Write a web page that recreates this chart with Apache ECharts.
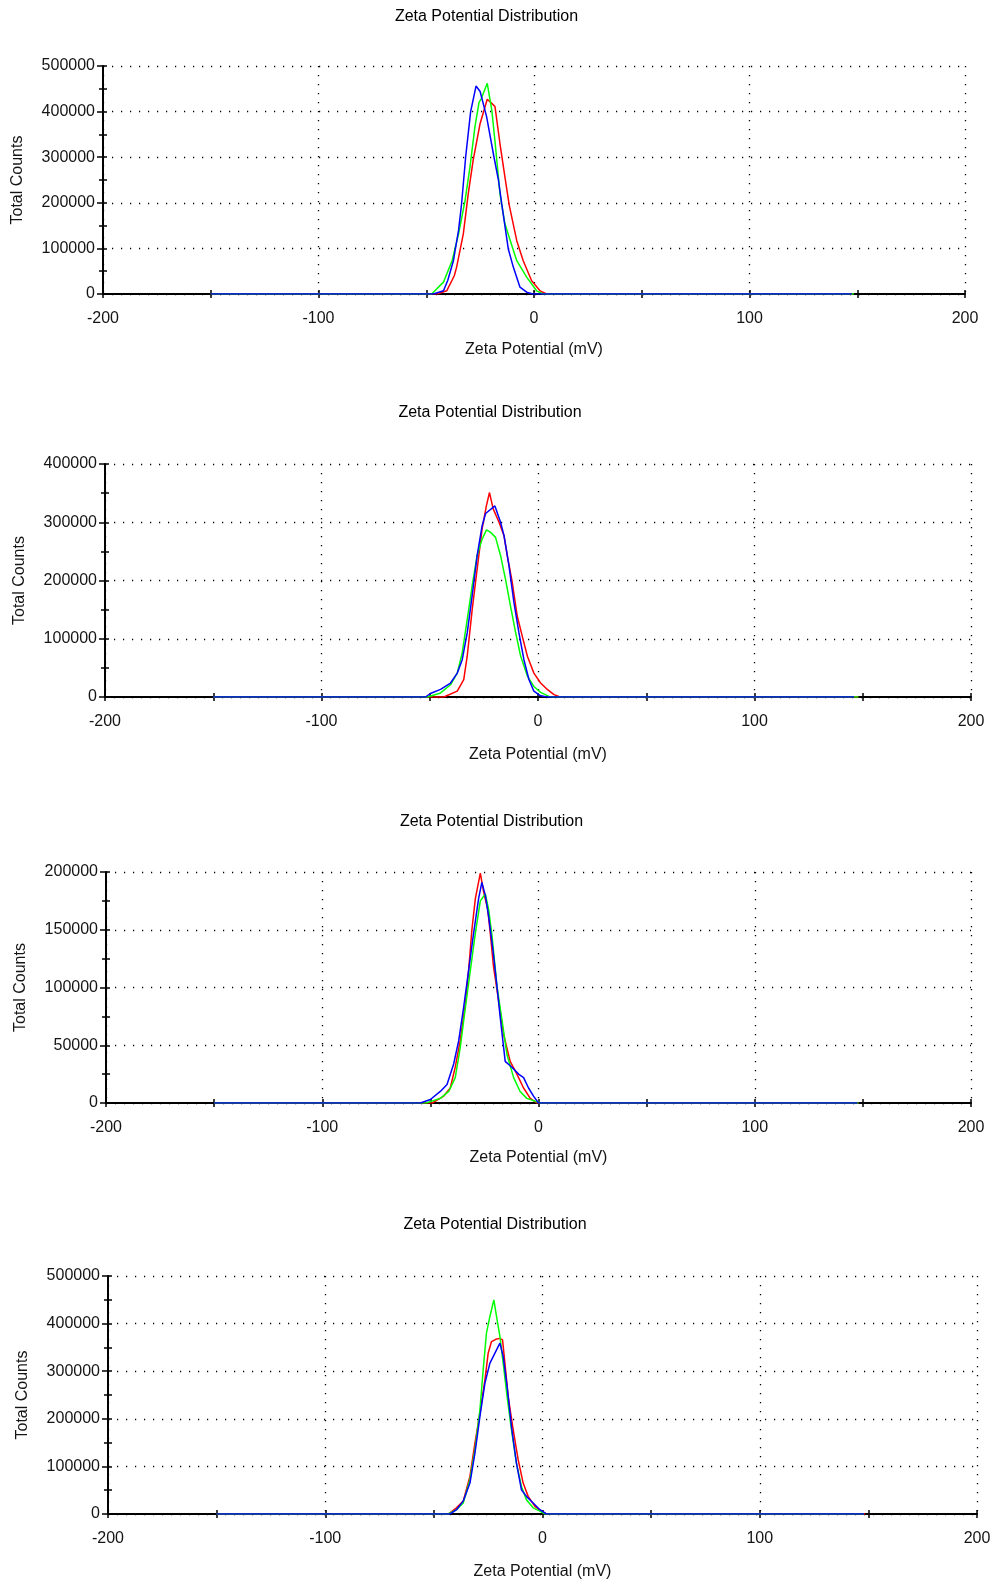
<!DOCTYPE html>
<html><head><meta charset="utf-8">
<script src="https://cdn.jsdelivr.net/npm/echarts@6/dist/echarts.min.js"></script>
<style>html,body{margin:0;padding:0;background:#fff}#c{width:994px;height:1582px}</style>
</head><body><div id="c"></div>
<script>
const titleText = 'Zeta Potential Distribution';
const xName = 'Zeta Potential (mV)';
const yName = 'Total Counts';
const xMin = -200, xMax = 200, xLabelStep = 100, xTickStep = 50;
const yMax = [500000, 400000, 200000, 500000];
const yStep = [100000, 100000, 50000, 100000];
const seriesNames = ['Record 1', 'Record 2', 'Record 3'];
const seriesColors = ['#ff0000', '#00ff00', '#0000ff'];

const p1Red = [[-150,0],[-45,0],[-40.5,7000],[-37,40000],[-35.9,59000],[-32.8,132000],[-30.5,220000],[-28.2,294000],[-25,374000],[-21.7,427000],[-19.6,418000],[-18.1,411000],[-15.8,330000],[-13.5,257000],[-11.5,195000],[-8,117000],[-5,73000],[-1.1,29000],[2.8,7000],[5.9,0],[148,0]];
const p1Green = [[-150,0],[-47.5,0],[-42,26000],[-38,73000],[-35,132000],[-32,205000],[-29.7,279000],[-27.4,367000],[-25.5,420000],[-24.5,428000],[-21.7,462000],[-19.6,404000],[-18,330000],[-15.8,220000],[-13.5,154000],[-11,117000],[-8,73000],[-3.4,37000],[1.2,7000],[4.3,0],[148.5,0]];
const p1Blue = [[-150,0],[-46.7,0],[-42,7000],[-40,30000],[-37.4,73000],[-35,140000],[-33.6,198000],[-31.7,301000],[-29.4,400000],[-26.9,456000],[-25,444000],[-22,389000],[-18.6,301000],[-16.5,250000],[-15,198000],[-11.9,98000],[-9.6,59000],[-6.5,15000],[-3.4,4000],[-0.6,0],[147.5,0]];

const p2Red = [[-150,0],[-43.5,0],[-37.3,10000],[-34.3,30000],[-32.7,70000],[-30.4,150000],[-28.1,220000],[-25.8,289000],[-23.8,329000],[-22.4,351000],[-20.7,323000],[-18,300000],[-15.7,277000],[-14.2,243000],[-11.9,197000],[-9.6,139000],[-7.3,105000],[-4.9,70000],[-1.9,41000],[1.2,24000],[4.3,13000],[7.4,4000],[10.2,0],[148,0]];
const p2Green = [[-150,0],[-51,0],[-45,7000],[-40.4,21000],[-37.3,41000],[-35,76000],[-32.7,133000],[-30.4,191000],[-28.1,243000],[-25.8,271000],[-23.8,287000],[-22,283000],[-19.6,274000],[-17.3,243000],[-15,202000],[-12.7,156000],[-10.3,110000],[-8,70000],[-4.9,36000],[-1.9,18000],[1.2,8000],[5.1,1000],[7.4,0],[148,0]];
const p2Blue = [[-150,0],[-52,0],[-49.7,6000],[-45,13000],[-40.4,24000],[-37.3,41000],[-35,64000],[-32.7,110000],[-30.4,174000],[-28.1,243000],[-25.8,294000],[-24.2,315000],[-19.9,328000],[-17.3,300000],[-15.7,277000],[-13.4,225000],[-11.1,162000],[-8.8,110000],[-6.5,64000],[-4.2,30000],[-1.9,10000],[1.2,2000],[4.3,0],[146,0]];

const p3Red = [[-150,0],[-49.2,0],[-43.8,6000],[-40.8,13000],[-38.5,31000],[-36.2,54000],[-33.8,86000],[-32.3,115000],[-30.8,150000],[-29.2,177000],[-26.9,199000],[-25.4,183000],[-23.5,168000],[-22.3,147000],[-20.8,118000],[-18.5,89000],[-16.2,60000],[-13.1,36000],[-10,25000],[-6.9,13000],[-3.8,4000],[-0.8,0],[148,0]];
const p3Green = [[-150,0],[-52,0],[-45.4,4000],[-41.5,10000],[-38.5,22000],[-36.2,48000],[-33.8,83000],[-31.5,115000],[-29.2,147000],[-26.9,175000],[-24.6,181000],[-23.1,168000],[-21.5,145000],[-19.2,101000],[-16.9,72000],[-14.6,42000],[-11.5,22000],[-8.5,10000],[-5.4,4000],[0.8,0],[148,0]];
const p3Blue = [[-150,0],[-54.6,0],[-50,3000],[-45.4,10000],[-42.3,16000],[-39.2,34000],[-36.9,54000],[-34.6,83000],[-32.3,115000],[-30,147000],[-27.7,177000],[-26.2,191000],[-24.6,180000],[-23.1,162000],[-21.1,133000],[-19.2,101000],[-17.7,74000],[-15.4,36000],[-12.3,31000],[-9.2,25000],[-6.9,22000],[-4.6,13000],[-2.3,6000],[0,0],[147.5,0]];

const p4Red = [[-150,0],[-43.4,0],[-39.6,13000],[-36.5,27000],[-33.4,79000],[-31.1,149000],[-28.8,212000],[-26.5,282000],[-25,338000],[-23.5,362000],[-21.5,367000],[-19.6,369000],[-18.4,366000],[-17.3,317000],[-15.8,247000],[-13.5,177000],[-11.2,114000],[-8.9,65000],[-6.6,37000],[-3.5,16000],[-0.5,6000],[1.8,0],[148.5,0]];
const p4Green = [[-150,0],[-43.4,0],[-39.6,9000],[-36.5,23000],[-33.4,72000],[-31.1,135000],[-28.8,219000],[-27.3,303000],[-25.8,380000],[-24.2,415000],[-22.4,450000],[-20.9,408000],[-19.6,373000],[-18.1,317000],[-16.3,247000],[-14.3,177000],[-12,107000],[-9.7,58000],[-7.4,30000],[-4.3,13000],[-1.2,6000],[1.1,0],[148,0]];
const p4Blue = [[-150,0],[-42.6,0],[-39.6,9000],[-36.5,27000],[-33.4,65000],[-31.1,128000],[-28.8,205000],[-26.5,275000],[-24.2,317000],[-21.9,338000],[-19.6,359000],[-18.1,331000],[-16.3,268000],[-14.3,184000],[-12,107000],[-9.7,51000],[-7.4,37000],[-4.3,23000],[-1.2,9000],[1.8,0],[148,0]];

const panelData = [
  [p1Red, p1Green, p1Blue],
  [p2Red, p2Green, p2Blue],
  [p3Red, p3Green, p3Blue],
  [p4Red, p4Green, p4Blue]
];

// layout (pixels)
const layout = [
  {left:103, top:66,   width:862, height:228, tx:486.5, ty:16,   gap:56},
  {left:105, top:464,  width:866, height:233, tx:490,   ty:412,  gap:58},
  {left:106, top:872,  width:865, height:231, tx:491.5, ty:821,  gap:55},
  {left:108, top:1276, width:869, height:238, tx:495,   ty:1224, gap:58}
];

const FONT = 'Liberation Sans, Arial, sans-serif';
const TXT = '#141414';
const dotted = {color:'#000', type:[1.2,7.8], width:1.3};
const plain = v => String(v);

const grids = [], xAxes = [], yAxes = [], series = [], graphics = [];
layout.forEach((L, i) => {
  grids.push({left:L.left, top:L.top, width:L.width, height:L.height, containLabel:false, outerBoundsMode:'none'});
  graphics.push({type:'text', x:L.tx, y:L.ty + 1, style:{text:titleText, font:'16px ' + FONT, fill:'#000', align:'center', verticalAlign:'middle'}});
  xAxes.push({
    type:'value', gridIndex:i, position:'bottom', min:xMin, max:xMax, interval:xLabelStep,
    axisLine:{show:true, onZero:false, lineStyle:{color:'#000', width:2}},
    axisTick:{show:true, length:4, lineStyle:{color:'#000', width:1.5}},
    minorTick:{show:true, splitNumber:2, length:4, lineStyle:{color:'#000', width:1.5}},
    axisLabel:{color:TXT, fontSize:16, fontFamily:FONT, margin:17, formatter:plain},
    splitLine:{show:true, lineStyle:dotted},
    name:xName, nameLocation:'middle', nameGap:L.gap,
    nameTextStyle:{color:TXT, fontSize:16, fontFamily:FONT, verticalAlign:'middle'}
  });
  xAxes.push({
    type:'value', gridIndex:i, position:'bottom', min:xMin, max:xMax, interval:xTickStep,
    axisLine:{show:false, onZero:false},
    axisTick:{show:true, inside:true, length:4, lineStyle:{color:'#000', width:1.5}},
    axisLabel:{show:false}, splitLine:{show:false}
  });
  yAxes.push({
    type:'value', gridIndex:i, position:'left', min:0, max:yMax[i], interval:yStep[i],
    axisLine:{show:true, onZero:false, lineStyle:{color:'#000', width:2}},
    axisTick:{show:true, length:6, lineStyle:{color:'#000', width:1.5}},
    minorTick:{show:true, splitNumber:2, length:4, lineStyle:{color:'#000', width:1.5}},
    axisLabel:{color:TXT, fontSize:16, fontFamily:FONT, margin:8, formatter:plain},
    splitLine:{show:true, lineStyle:dotted},
    name:yName, nameLocation:'middle', nameGap:85, nameRotate:90,
    nameTextStyle:{color:TXT, fontSize:16, fontFamily:FONT, verticalAlign:'middle'}
  });
  yAxes.push({
    type:'value', gridIndex:i, position:'left', min:0, max:yMax[i], interval:yStep[i] / 2,
    axisLine:{show:false, onZero:false},
    axisTick:{show:true, inside:true, length:4, lineStyle:{color:'#000', width:1.5}},
    axisLabel:{show:false}, splitLine:{show:false}
  });
  panelData[i].forEach((d, k) => {
    series.push({
      type:'line', name:seriesNames[k], xAxisIndex:2 * i, yAxisIndex:2 * i,
      data:d, showSymbol:false, symbol:'none', smooth:false,
      lineStyle:{color:seriesColors[k], width:1.5}, itemStyle:{color:seriesColors[k]},
      z:3 + k, silent:true
    });
  });
});

const chart = echarts.init(document.getElementById('c'), null, {renderer:'canvas'});
chart.setOption({
  animation:false,
  backgroundColor:'#fff',
  grid:grids, xAxis:xAxes, yAxis:yAxes, series:series, graphic:graphics
});
</script></body></html>
